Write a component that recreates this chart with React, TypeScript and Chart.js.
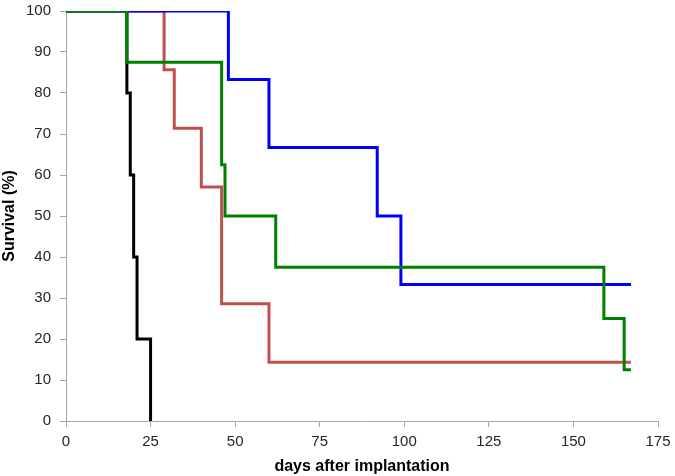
import React, { useEffect, useRef } from "react";
import { Chart, registerables } from "chart.js";

Chart.register(...registerables);

const xTicks = [0, 25, 50, 75, 100, 125, 150, 175];
const yTicks = [0, 10, 20, 30, 40, 50, 60, 70, 80, 90, 100];

const greenDays = [0, 18, 46, 47, 62, 159, 165, 167];
const greenSurv = [100, 87.5, 62.5, 50, 37.5, 25, 12.5, 12.5];

const blueDays = [0, 48, 60, 92, 99, 167];
const blueSurv = [100, 83.3, 66.7, 50, 33.3, 33.3];

const redDays = [0, 29, 32, 40, 46, 60, 167];
const redSurv = [100, 85.7, 71.4, 57.1, 28.6, 14.3, 14.3];

const blackDays = [0, 18, 19, 20, 21, 25];
const blackSurv = [100, 80, 60, 40, 20, 0];

const toPts = (xs: number[], ys: number[]) => xs.map((x, i) => ({ x, y: ys[i] }));

export default function App() {
  const ref = useRef<HTMLCanvasElement | null>(null);
  useEffect(() => {
    document.body.style.margin = "0";
    const ctx = ref.current!;
    const mk = (xs: number[], ys: number[], color: string) => ({
      data: toPts(xs, ys),
      borderColor: color,
      backgroundColor: color,
      borderWidth: 3,
      pointRadius: 0,
      stepped: "before" as const,
      fill: false,
    });
    const chart = new Chart(ctx, {
      type: "line",
      data: {
        datasets: [
          mk(greenDays, greenSurv, "#008000"),
          mk(blueDays, blueSurv, "#0000F5"),
          mk(redDays, redSurv, "#C0504D"),
          mk(blackDays, blackSurv, "#000000"),
        ],
      },
      options: {
        animation: false,
        responsive: false,
        maintainAspectRatio: false,
        layout: { padding: { top: 11, right: 17, left: 0, bottom: 0 } },
        plugins: { legend: { display: false }, tooltip: { enabled: false } },
        scales: {
          x: {
            type: "linear",
            min: xTicks[0],
            max: xTicks[xTicks.length - 1],
            afterBuildTicks: (s: any) => {
              s.ticks = xTicks.map((v) => ({ value: v }));
            },
            afterFit: (s: any) => {
              s.height = 55;
              s.paddingLeft = 0;
              s.paddingRight = 0;
            },
            ticks: {
              font: { family: "Liberation Sans, Arial", size: 15 },
              color: "#262626",
              padding: 6,
              maxRotation: 0,
            },
            grid: { drawOnChartArea: false, drawTicks: true, tickLength: 6, color: "#a6a6a6" },
            border: { color: "#a6a6a6", width: 1 },
            title: {
              display: true,
              text: "days after implantation",
              font: { family: "Liberation Sans, Arial", size: 16, weight: "bold" },
              color: "#000",
              padding: { top: 0, bottom: 0 },
            },
          },
          y: {
            type: "linear",
            min: yTicks[0],
            max: yTicks[yTicks.length - 1],
            afterBuildTicks: (s: any) => {
              s.ticks = yTicks.map((v) => ({ value: v }));
            },
            afterFit: (s: any) => {
              s.width = 66;
              s.paddingTop = 0;
              s.paddingBottom = 0;
            },
            ticks: {
              font: { family: "Liberation Sans, Arial", size: 15 },
              color: "#262626",
              padding: 9,
            },
            grid: { drawOnChartArea: false, drawTicks: true, tickLength: 6, color: "#a6a6a6" },
            border: { color: "#a6a6a6", width: 1 },
            title: {
              display: true,
              text: "Survival (%)",
              font: { family: "Liberation Sans, Arial", size: 16, weight: "bold" },
              color: "#000",
              padding: { top: 0, bottom: 0 },
            },
          },
        },
      },
    } as any);
    return () => chart.destroy();
  }, []);
  return (
    <div style={{ width: 675, height: 476 }}>
      <canvas ref={ref} width={675} height={476} style={{ display: "block" }} />
    </div>
  );
}
